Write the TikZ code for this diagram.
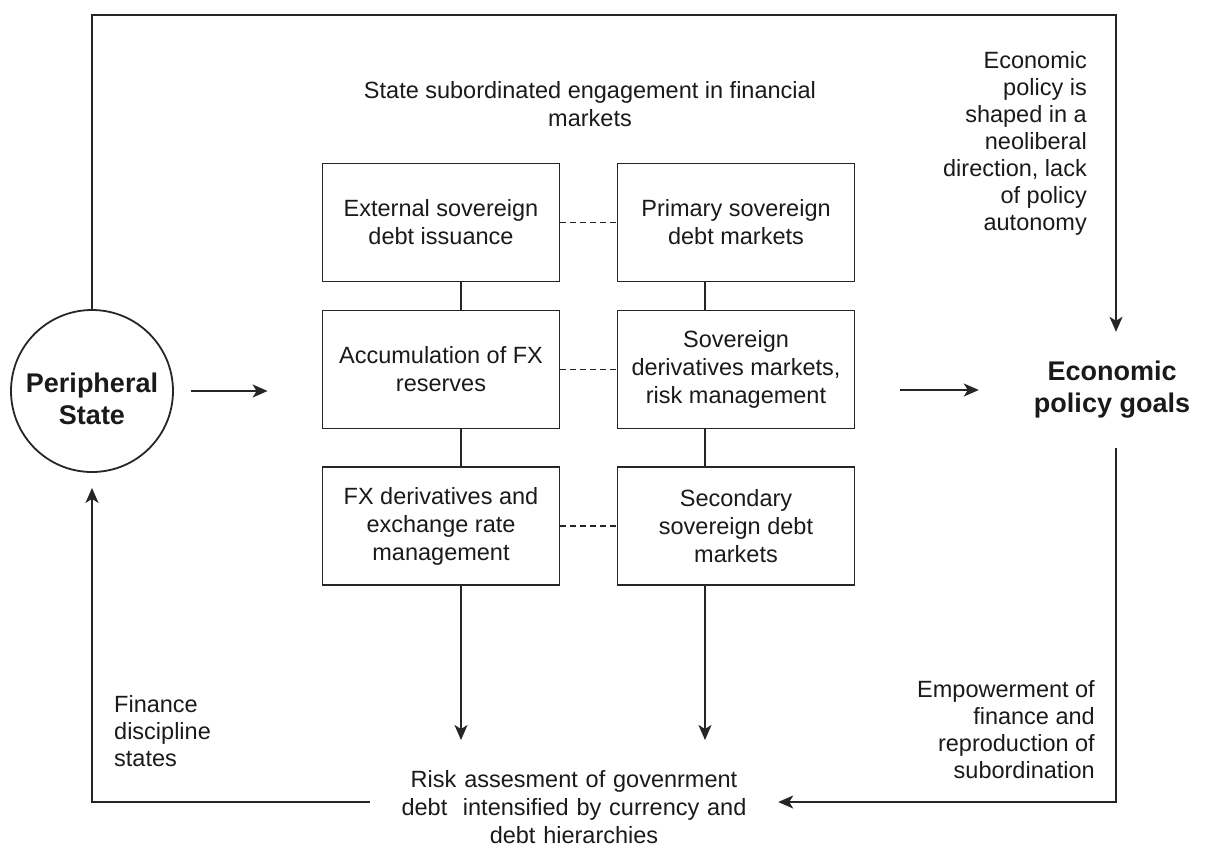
\documentclass[tikz,border=0pt]{standalone}
\usepackage{fontspec}
\setmainfont{Liberation Sans}
\usetikzlibrary{arrows.meta,positioning}
\definecolor{Ink}{HTML}{262626}
\definecolor{TextInk}{HTML}{1A1A1A}
\newcommand{\cellfont}{\fontsize{23.5}{28}\selectfont}
\newcommand{\notefont}{\fontsize{23.5}{27}\selectfont}
\newcommand{\goalfont}{\fontsize{27}{32}\selectfont\bfseries}
\tikzset{
  box/.style={draw=Ink, line width=1.8pt, minimum width=237pt, minimum height=118pt, inner sep=4pt, align=center, font=\cellfont, text=TextInk},
  lbl/.style={inner sep=0pt, align=center, font=\notefont, text=TextInk},
  goal/.style={inner sep=0pt, align=center, font=\goalfont, text=TextInk},
  link/.style={line width=1.8pt, draw=Ink},
  dlink/.style={line width=1.6pt, draw=Ink, dash pattern=on 6pt off 4pt},
  arr/.style={-{Stealth[length=15pt,width=13pt,inset=4pt]}, line width=1.8pt, draw=Ink}
}
\begin{document}
\begin{tikzpicture}[x=1pt,y=-1pt]
\useasboundingbox (0,0) rectangle (1206,846);
\node[circle, draw=Ink, line width=1.8pt, minimum size=162pt] (ps) at (92,391) {};
\node[goal] (pslabel) at (92,399) {Peripheral\\State};
\node[lbl, font=\cellfont] (title) at (590,104) {State subordinated engagement in financial\\markets};
\foreach \n/\x/\y/\txt in {l1/441/222.5/{External sovereign\\debt issuance},
  r1/736/222.5/{Primary sovereign\\debt markets},
  l2/441/369.5/{Accumulation of FX\\reserves},
  r2/736/369.5/{Sovereign\\derivatives markets,\\risk management},
  l3/441/526/{FX derivatives and\\exchange rate\\management},
  r3/736/526/{Secondary\\sovereign debt\\markets}}{\node[box] (\n) at (\x,\y) {\txt};}
\node[goal, minimum height=116pt] (econ) at (1112,390) {Economic\\policy goals};
\node[lbl, font=\cellfont, text width=408pt] (risk) at (574,807) {Risk assesment of govenrment\\debt~ intensified by currency and\\debt hierarchies};
\node[lbl, align=right, anchor=east] (shaped) at (1087,143) {Economic\\policy is\\shaped in a\\neoliberal\\direction, lack\\of policy\\autonomy\ };
\node[lbl, align=right, anchor=east] (empower) at (1095,730) {Empowerment of\\finance and\\reproduction of\\subordination};
\node[lbl, align=left, anchor=west] (discipline) at (114,731) {Finance\\discipline\\states};
\coordinate (lc) at (461,740);
\coordinate (rc) at (705,740);
\coordinate (tr) at (1116,15);
\foreach \a/\b in {l1/l2,l2/l3}{\draw[link] (\a.south -| lc) -- (\b.north -| lc);}
\foreach \a/\b in {r1/r2,r2/r3}{\draw[link] (\a.south -| rc) -- (\b.north -| rc);}
\foreach \i in {1,2,3}{\draw[dlink] (l\i.east) -- (r\i.west);}
\draw[arr] (l3.south -| lc) -- (lc);
\draw[arr] (r3.south -| rc) -- (rc);
\draw[arr, shorten <=17pt, shorten >=54pt] (ps.east) -- (ps.east -| l2.west);
\draw[arr, shorten <=45pt, shorten >=55pt] (econ.west -| r2.east) -- (econ.west);
\draw[arr] (ps.north) |- (tr) -- (tr |- econ.north);
\draw[arr] (econ.south -| tr) |- ([yshift=5pt]risk.east);
\draw[arr, shorten >=15pt] ([yshift=5pt]risk.west) -| (ps.south);
\end{tikzpicture}
\end{document}
